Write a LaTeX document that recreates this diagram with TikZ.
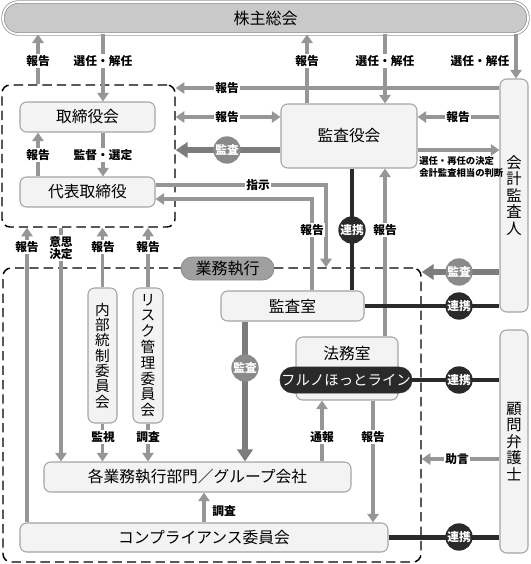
\documentclass[tikz,border=0pt]{standalone}
\usepackage{fontspec}
\setmainfont{Noto Sans CJK JP}
\usetikzlibrary{arrows.meta,fit}
\definecolor{ar}{HTML}{969696}
\definecolor{tk}{HTML}{7C7C7C}
\definecolor{bgA}{HTML}{8A8A8A}
\definecolor{dk}{HTML}{2A2A2A}
\definecolor{nf}{HTML}{F3F3F3}
\definecolor{bd}{HTML}{A4A4A4}
\definecolor{gmf}{HTML}{C9C9C9}
\definecolor{exf}{HTML}{A0A0A0}
\begin{document}
\begin{tikzpicture}[x=0.75pt,y=-0.75pt,
  sz/.style 2 args={minimum width={(#1)*0.75pt}, minimum height={(#2)*0.75pt}},
  box/.style={draw=bd, fill=nf, rounded corners=5pt, inner sep=0pt, line width=0.8pt, font=\fontsize{11.8}{13}\selectfont},
  vbox/.style={box, align=center, font=\fontsize{11}{11.5}\selectfont},
  grp/.style={draw=black, dash pattern=on 7pt off 3.8pt, line width=1.1pt, rounded corners=6pt, inner sep=0pt},
  arr/.style={draw=ar, line width=2.6pt, -{Triangle[width=8.5pt,length=6.5pt]}},
  darr/.style={draw=ar, line width=2.6pt, {Triangle[width=8.5pt,length=6.5pt]}-{Triangle[width=8.5pt,length=6.5pt]}},
  thk/.style={draw=tk, line width=4.5pt, -{Triangle[width=11.5pt,length=9pt]}},
  lnk/.style={draw=dk, line width=3.5pt},
  lab/.style={fill=white, inner sep=1.2pt, font=\bfseries\fontsize{8.8}{9.5}\selectfont},
  badge/.style={circle, minimum size=20.5pt, inner sep=0pt, text=white, font=\bfseries\fontsize{8.8}{9}\selectfont}]
\useasboundingbox (0,0) rectangle (531,564);

% groups
\node[grp, fit={(2,85) (175,227)}] (dir) {};
\node[grp, fit={(3,268) (421,562)}] (exe) {};

% nodes
\node[fill=gmf, draw=ar, double=white, double distance=1.3pt, line width=0.6pt, rounded corners=11.5pt, inner sep=0pt,
      font=\fontsize{12}{13}\selectfont, sz={525}{32}] (gm) at (265.5,18) {株主総会};
\node[box, sz={135}{30}] (bod) at (87.5,117) {取締役会};
\node[box, sz={135}{30}] (ceo) at (87.5,192) {代表取締役};
\node[box, sz={136}{64}] (aud) at (349,136) {監査役会};
\node[vbox, font=\fontsize{11.5}{12.3}\selectfont, sz={28}{233}] (acc) at (514,195.5) {会\\計\\監\\査\\人};
\node[vbox, font=\fontsize{11.5}{12.3}\selectfont, sz={28}{223}] (law) at (514,441.5) {顧\\問\\弁\\護\\士};
\node[box, sz={143}{30}] (ia) at (292.5,306) {監査室};
\node[box, sz={102}{63}] (legal) at (347,368.5) {};
\node[font=\fontsize{11.8}{13}\selectfont] (legaltxt) at (347,354) {法務室};
\node[fill=dk, draw=dk, text=white, rounded corners=9.5pt, inner sep=0pt, font=\fontsize{10.8}{12}\selectfont,
      sz={132}{26}] (hot) at (346,380) {フルノほっとライン};
\node[vbox, sz={29}{135}] (ic) at (102.5,355.5) {内\\部\\統\\制\\委\\員\\会};
\node[vbox, font=\fontsize{11}{11.85}\selectfont, sz={30}{135}] (risk) at (148,355.5) {リ\\ス\\ク\\管\\理\\委\\員\\会};
\node[box, sz={307}{30}] (bu) at (197.5,477) {各業務執行部門／グループ会社};
\node[box, sz={368}{29}] (comp) at (204,537.5) {コンプライアンス委員会};
\node[fill=exf, draw=bgA, line width=0.6pt, rounded corners=8.5pt, inner sep=0pt, font=\fontsize{12}{13}\selectfont,
      sz={93}{23}] (exelab) at (227.5,268.5) {業務執行};

% connectors from 株主総会
\draw[arr] (dir.north -| 38,0) -- (gm.south -| 38,0);
\draw[arr] (gm.south -| 103,0) -- (bod.north -| 103,0);
\draw[arr] (aud.north -| 307,0) -- (gm.south -| 307,0);
\draw[arr] (gm.south -| 385,0) -- (aud.north -| 385,0);
\draw[arr] (gm.south -| 516,0) -- (acc.north -| 516,0);
\draw[arr] (acc.west |- 0,88) -- (dir.east |- 0,88);

% 取締役 block
\draw[arr] (ceo.north -| 38,0) -- (bod.south -| 38,0);
\draw[arr] (bod.south -| 103,0) -- (ceo.north -| 103,0);
\draw[darr] (dir.east |- 0,117) -- (aud.west |- 0,117);
\draw[thk] (aud.west |- 0,150) -- (dir.east |- 0,150);
\draw[arr] (acc.west |- 0,117) -- (aud.east |- 0,117);
\draw[arr] (aud.east |- 0,150) -- (acc.west |- 0,150);
\draw[arr] (ceo.east |- 0,185) -| (exe.north -| 326,0);
\draw[arr] (ia.north -| 312,0) |- (ceo.east |- 0,199);
\draw[lnk] (aud.south -| 352,0) -- (ia.north -| 352,0);
\draw[arr] (legal.north -| 385,0) -- (aud.south -| 385,0);

% 会計監査人 / 顧問弁護士
\draw[thk] (acc.west |- 0,272) -- (exe.east |- 0,272);
\draw[lnk] (ia.east) -- (acc.west |- ia.east);
\draw[lnk] (hot.east) -- (law.west |- hot.east);
\draw[arr] (law.west |- 0,459) -- (exe.east |- 0,459);
\draw[lnk] (comp.east) -- (law.west |- comp.east);

% 業務執行 block
\draw[thk] (ia.south -| 245,0) -- (bu.north -| 245,0);
\draw[arr] (bu.north -| 322,0) -- (legal.south -| 322,0);
\draw[arr] (legal.south -| 373,0) -- (comp.north -| 373,0);
\draw[arr] (comp.north -| 204,0) -- (bu.south -| 204,0);
\draw[arr] (comp.north -| 27,0) -- (dir.south -| 27,0);
\draw[arr] (dir.south -| 61,0) -- (bu.north -| 61,0);
\draw[arr] (ic.north) -- (dir.south -| ic.north);
\draw[arr] (risk.north) -- (dir.south -| risk.north);
\draw[arr] (ic.south) -- (bu.north -| ic.south);
\draw[arr] (risk.south) -- (bu.north -| risk.south);

% labels
\node[lab] (l1) at (38,61) {報告};
\node[lab] (l2) at (103,61) {選任・解任};
\node[lab] (l3) at (307,61) {報告};
\node[lab] (l4) at (385,61) {選任・解任};
\node[lab] (l5) at (480,61) {選任・解任};
\node[lab] (l6) at (227,88) {報告};
\node[lab] (l7) at (227,117) {報告};
\node[lab] (l8) at (38,155) {報告};
\node[lab] (l9) at (103,155) {監督・選定};
\node[lab] (l10) at (458,117) {報告};
\node[anchor=north west, inner sep=0pt, align=left, font=\bfseries\fontsize{7}{9.4}\selectfont] (l11) at (419,156) {選任・再任の決定\\会計監査相当の判断};
\node[lab] (l12) at (258,185) {指示};
\node[lab] (l13) at (312,230) {報告};
\node[lab] (l14) at (385,230) {報告};
\node[lab] (l15) at (27,247) {報告};
\node[lab, align=center, font=\bfseries\fontsize{8.8}{9}\selectfont] (l16) at (61,248) {意思\\決定};
\node[lab] (l17) at (103,247) {報告};
\node[lab] (l18) at (148,247) {報告};
\node[lab] (l19) at (103,437) {監視};
\node[lab] (l20) at (148,437) {調査};
\node[lab] (l21) at (322,437) {通報};
\node[lab] (l22) at (373,437) {報告};
\node[lab] (l23) at (457,459) {助言};
\node[lab, fill=none] (l24) at (224,511) {調査};

% badges
\node[badge, fill=bgA] (b1) at (227,150) {監査};
\node[badge, fill=dk] (b2) at (352,230) {連携};
\node[badge, fill=bgA] (b3) at (459,272) {監査};
\node[badge, fill=dk] (b4) at (459,306) {連携};
\node[badge, fill=dk] (b5) at (459,380) {連携};
\node[badge, fill=bgA] (b6) at (245,368) {監査};
\node[badge, fill=dk] (b7) at (459,537) {連携};
\end{tikzpicture}
\end{document}
